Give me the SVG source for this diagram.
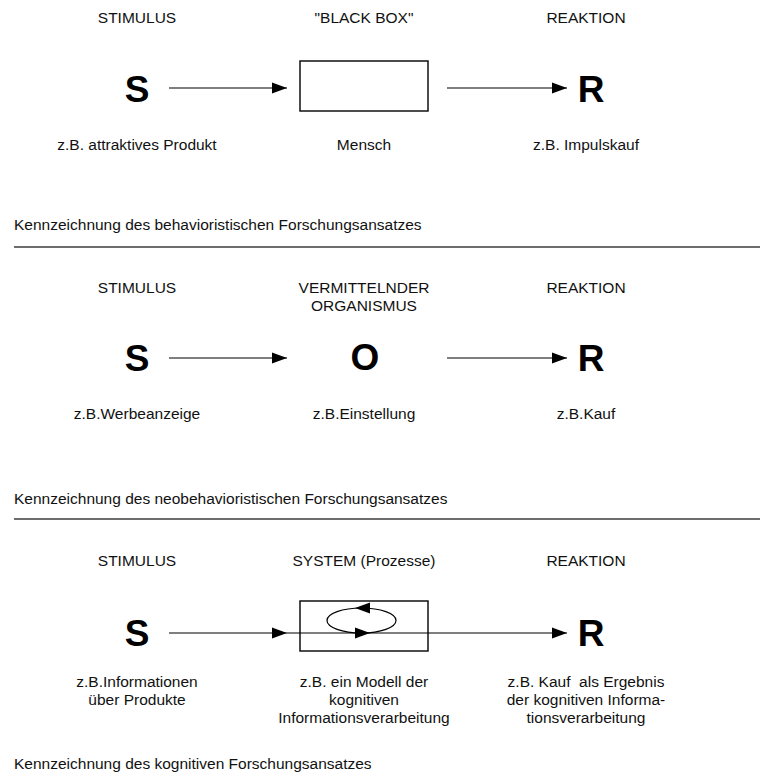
<svg xmlns="http://www.w3.org/2000/svg" width="760" height="780" viewBox="0 0 760 780">
  <style>
    text { font-family: "Liberation Sans", Arial, sans-serif; fill: #111; }
    .t { font-size: 15.5px; text-anchor: middle; }
    .cap { font-size: 15.5px; text-anchor: start; }
    .big { font-size: 37px; font-weight: bold; text-anchor: middle; fill: #000; }
    .line { stroke: #000; stroke-width: 1.2; fill: none; }
    .box { stroke: #000; stroke-width: 1.4; fill: #fff; }
    .rule { stroke: #3c3c3c; stroke-width: 1.6; }
    .head { fill: #000; }
  </style>
  <defs>
    <marker id="arr" markerUnits="userSpaceOnUse" markerWidth="16" markerHeight="12" refX="15" refY="6" orient="auto">
      <path d="M0,0.5 L15,6 L0,11.5 Z" class="head"/>
    </marker>
  </defs>

  <rect width="760" height="780" fill="#fff"/>

  <!-- Panel 1: behaviouristic S-R model -->
  <g id="p1-headings">
    <text class="t" x="137" y="23">STIMULUS</text>
    <text class="t" x="364" y="23">"BLACK BOX"</text>
    <text class="t" x="586" y="23">REAKTION</text>
  </g>
  <g id="p1-s"><text class="big" x="137" y="102">S</text></g>
  <g id="p1-box"><rect class="box" x="300" y="61" width="128" height="50"/></g>
  <g id="p1-r"><text class="big" x="591" y="102">R</text></g>
  <g id="p1-labels">
    <text class="t" x="137" y="150">z.B. attraktives Produkt</text>
    <text class="t" x="364" y="150">Mensch</text>
    <text class="t" x="586" y="150">z.B. Impulskauf</text>
  </g>
  <g id="p1-caption">
    <text class="cap" x="14" y="230">Kennzeichnung des behavioristischen Forschungsansatzes</text>
    <line class="rule" x1="14" y1="247" x2="760" y2="247"/>
  </g>

  <!-- Panel 2: neo-behaviouristic S-O-R model -->
  <g id="p2-headings">
    <text class="t" x="137" y="293">STIMULUS</text>
    <text class="t" x="364" y="293">VERMITTELNDER</text>
    <text class="t" x="364" y="311">ORGANISMUS</text>
    <text class="t" x="586" y="293">REAKTION</text>
  </g>
  <g id="p2-s"><text class="big" x="137" y="371">S</text></g>
  <g id="p2-o"><text class="big" x="365" y="370">O</text></g>
  <g id="p2-r"><text class="big" x="591" y="371">R</text></g>
  <g id="p2-labels">
    <text class="t" x="137" y="419">z.B.Werbeanzeige</text>
    <text class="t" x="364" y="419">z.B.Einstellung</text>
    <text class="t" x="586" y="419">z.B.Kauf</text>
  </g>
  <g id="p2-caption">
    <text class="cap" x="14" y="504">Kennzeichnung des neobehavioristischen Forschungsansatzes</text>
    <line class="rule" x1="14" y1="519" x2="760" y2="519"/>
  </g>

  <!-- Panel 3: cognitive model -->
  <g id="p3-headings">
    <text class="t" x="137" y="566">STIMULUS</text>
    <text class="t" x="364" y="566">SYSTEM (Prozesse)</text>
    <text class="t" x="586" y="566">REAKTION</text>
  </g>
  <g id="p3-s"><text class="big" x="137" y="646">S</text></g>
  <g id="p3-system">
    <rect class="box" x="300" y="601" width="128" height="50"/>
    <ellipse class="line" cx="361.5" cy="620.5" rx="34.5" ry="12.5"/>
    <path class="head" d="M355,608 L370,602.5 L370,613.5 Z"/>
    <path class="head" d="M370,633 L355,627.5 L355,638.5 Z"/>
  </g>
  <g id="p3-r"><text class="big" x="591" y="646">R</text></g>
  <g id="p3-labels">
    <text class="t" x="137" y="687">z.B.Informationen</text>
    <text class="t" x="137" y="705">über Produkte</text>
    <text class="t" x="364" y="687">z.B. ein Modell der</text>
    <text class="t" x="364" y="705">kognitiven</text>
    <text class="t" x="364" y="723">Informationsverarbeitung</text>
    <text class="t" x="586" y="687" xml:space="preserve">z.B. Kauf  als Ergebnis</text>
    <text class="t" x="586" y="705">der kognitiven Informa-</text>
    <text class="t" x="586" y="723">tionsverarbeitung</text>
  </g>
  <g id="p3-caption">
    <text class="cap" x="14" y="769">Kennzeichnung des kognitiven Forschungsansatzes</text>
  </g>

  <!-- Connectors -->
  <g id="connectors">
    <line class="line" x1="169" y1="88" x2="287" y2="88" marker-end="url(#arr)"/>
    <line class="line" x1="447" y1="88" x2="567" y2="88" marker-end="url(#arr)"/>
    <line class="line" x1="169" y1="358" x2="287" y2="358" marker-end="url(#arr)"/>
    <line class="line" x1="447" y1="358" x2="567" y2="358" marker-end="url(#arr)"/>
    <line class="line" x1="169" y1="633" x2="287" y2="633" marker-end="url(#arr)"/>
    <line class="line" x1="287" y1="633" x2="567" y2="633" marker-end="url(#arr)"/>
  </g>
</svg>
